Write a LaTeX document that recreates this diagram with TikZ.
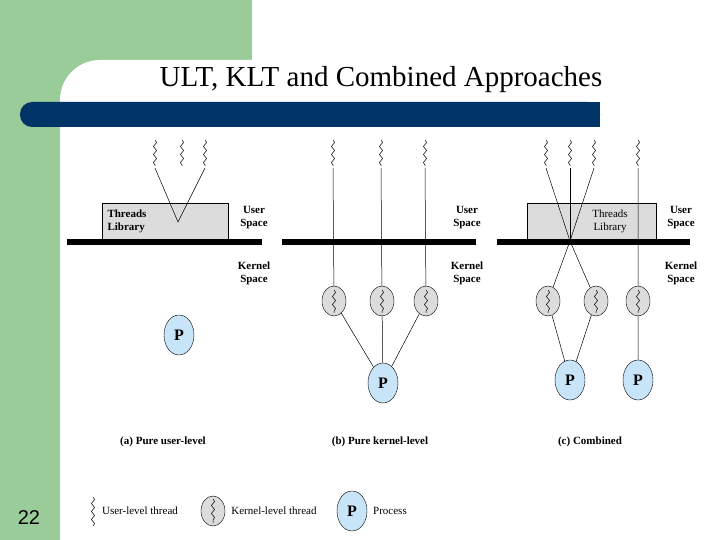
\documentclass[tikz,border=0pt]{standalone}
\usepackage{fontspec}
\setmainfont{Liberation Serif}
\setsansfont{Liberation Sans}
\usetikzlibrary{decorations.pathmorphing,shapes.geometric}
\definecolor{bg}{RGB}{153,204,153}
\definecolor{bar}{RGB}{0,51,102}
\definecolor{pblue}{RGB}{200,228,248}
\definecolor{kgray}{RGB}{220,220,220}
\begin{document}
\begin{tikzpicture}[x=1pt,y=-1pt,
  wav/.style={decorate,decoration={snake,amplitude=1.6pt,segment length=8pt},line width=0.5pt},
  lib/.style={draw,fill=kgray,line width=0.5pt},
  sep/.style={line width=6pt},
  kt/.style={ellipse,draw,fill=kgray,minimum width=24pt,minimum height=30pt,inner sep=0pt},
  proc/.style={ellipse,draw,fill=pblue,minimum width=30pt,minimum height=40pt,inner sep=0pt,font=\bfseries\fontsize{16}{16}\selectfont},
  lbl/.style={font=\bfseries\fontsize{11}{13}\selectfont,align=center},
  captxt/.style={font=\bfseries\fontsize{11}{13}\selectfont},
  ln/.style={line width=0.5pt}]
\useasboundingbox (0,0) rectangle (720,540);
\fill[white] (0,0) rectangle (720,540);
\fill[bg] (0,0) rectangle (252,115);
\fill[bg] (0,0) rectangle (60,540);
\fill[white,rounded corners=40pt] (60,60) rectangle (760,580);
\fill[bar,rounded corners=12pt] (20,102) rectangle (600,127);
\fill[bar] (300,102) rectangle (600,127);
\node[font=\fontsize{29}{32}\selectfont] (title) at (381,80) {ULT, KLT and Combined Approaches};
\node[font=\sffamily\fontsize{20}{22}\selectfont] (num) at (29,518) {22};
% (a)
\draw[lib] (102,203) rectangle (228,240);
\node[lbl,align=left,anchor=west] (tla) at (104,221) {Threads\\Library};
\draw[sep] (67,242) -- (262,242);
\foreach \x/\n in {155/a1,182/a2,205/a3}{
  \draw[wav] (\x,140) -- (\x,166);
  \coordinate (\n) at (\x,168);}
\coordinate (va) at (178,222);
\draw[ln] (a1) -- (va) -- (a3);
\node[lbl] (usa) at (254,218) {User\\Space};
\node[lbl] (ksa) at (254,273) {Kernel\\Space};
\node[proc] (pa) at (179,335) {P};
% (b)
\draw[sep] (282,242) -- (476,242);
\node[proc] (pb) at (383,383) {P};
\foreach \x/\n in {333/b1,381/b2,425/b3}{
  \draw[wav] (\x,140) -- (\x,166);
  \coordinate (\n) at (\x,168);
  \node[kt] (k\n) at (\x+1,301) {};
  \draw[wav] (\x+1,290) -- (\x+1,313);
  \draw[ln] (\n) -- (k\n);
  \draw[ln] (k\n) -- (pb);}
\node[lbl] (usb) at (467,218) {User\\Space};
\node[lbl] (ksb) at (467,273) {Kernel\\Space};
% (c)
\draw[lib] (527,203) rectangle (656,240);
\node[lbl,font=\fontsize{11}{13}\selectfont] (tlc) at (610,221) {Threads\\Library};
\draw[sep] (497,242) -- (690,242);
\foreach \x/\n in {546/c1,570/c2,594/c3,638/c4}{
  \draw[wav] (\x,140) -- (\x,166);
  \coordinate (\n) at (\x,168);}
\coordinate (vc) at (570,241);
\draw[ln] (c1) -- (vc) -- (c3);
\draw[ln] (c2) -- (vc);
\node[kt] (kc1) at (548,301) {};
\node[kt] (kc2) at (596,301) {};
\node[kt] (kc3) at (638,301) {};
\foreach \x in {548,596,638}{\draw[wav] (\x,290) -- (\x,313);}
\node[proc] (pc1) at (570,380) {P};
\node[proc] (pc2) at (638,380) {P};
\draw[ln] (vc) -- (kc1) (vc) -- (kc2) (c4) -- (kc3);
\draw[ln] (kc1) -- (pc1) (kc2) -- (pc1) (kc3) -- (pc2);
\node[lbl] (usc) at (681,218) {User\\Space};
\node[lbl] (ksc) at (681,273) {Kernel\\Space};
% captions
\node[captxt] (ca) at (163,442) {(a) Pure user-level};
\node[captxt] (cb) at (380,442) {(b) Pure kernel-level};
\node[captxt] (cc) at (590,442) {(c) Combined};
% legend
\draw[wav] (93,497) -- (93,526);
\node[captxt,font=\fontsize{11}{13}\selectfont] (l1) at (140,511) {User-level thread};
\node[kt] (lk) at (213,511) {};
\draw[wav] (213,499) -- (213,523);
\node[captxt,font=\fontsize{11}{13}\selectfont] (l2) at (274,511) {Kernel-level thread};
\node[proc] (lp) at (352,511) {P};
\node[captxt,font=\fontsize{11}{13}\selectfont] (l3) at (390,511) {Process};
\end{tikzpicture}
\end{document}
